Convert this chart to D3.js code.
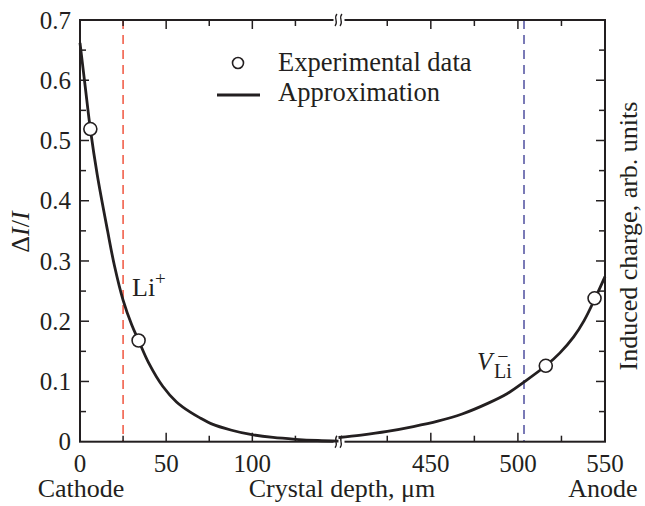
<!DOCTYPE html>
<html>
<head>
<meta charset="utf-8">
<script src="https://cdn.jsdelivr.net/npm/d3@7"></script>
<style>
  body { margin: 0; background: #fff; }
  svg text { font-family: "Liberation Serif", "Times New Roman", serif; fill: #231f20; }
</style>
</head>
<body>
<script>
// Data
var leftCurve = [
  [0, 0.662], [3, 0.59], [6, 0.519], [10, 0.443], [16, 0.35], [20, 0.292],
  [25, 0.235], [30, 0.194], [34, 0.168], [40, 0.130], [48, 0.092], [56, 0.066],
  [64, 0.049], [70, 0.039], [76, 0.030], [88, 0.019], [99, 0.012], [112, 0.007],
  [125, 0.004], [138, 0.002], [150, 0.001]
];
var rightCurve = [
  [397, 0.007], [410, 0.011], [425, 0.017], [440, 0.025], [454, 0.034],
  [468, 0.046], [483, 0.064], [494, 0.080], [503, 0.098], [516, 0.126],
  [524, 0.147], [532, 0.174], [538, 0.201], [544, 0.236], [550, 0.274]
];
var expPoints = [[6, 0.519], [34, 0.168], [516, 0.126], [544, 0.238]];
var xMajor = [0, 50, 100, 450, 500, 550];
var xMinor = [25, 75, 125, 425, 475, 525];
var yMajor = [0, 0.1, 0.2, 0.3, 0.4, 0.5, 0.6, 0.7];
var yMinor = [0.05, 0.15, 0.25, 0.35, 0.45, 0.55, 0.65];
var liPlus = 25;       // Li+ position, um
var vLi = 503.5;       // V_Li- position, um

//Define plot box
var W = 645, H = 506;
var pL = 80, pR = 605, pT = 20, pB = 441.7;

var svg = d3.select("body").append("svg")
    .attr("width", W)
    .attr("height", H);

//Broken x scale: 0-150 and 397-550
var xScale = d3.scaleLinear()
    .domain([0, 150, 397, 550])
    .range([pL, 338.5, 338.5, pR]);
var yScale = d3.scaleLinear().domain([0, 0.7]).range([pB, pT]);

//Dashed marker lines
svg.append("line")
    .attr("x1", xScale(liPlus)).attr("x2", xScale(liPlus))
    .attr("y1", pT).attr("y2", pB)
    .attr("stroke", "#f0553f").attr("stroke-width", 1.5)
    .attr("stroke-dasharray", "9,6");
svg.append("line")
    .attr("x1", xScale(vLi)).attr("x2", xScale(vLi))
    .attr("y1", pT).attr("y2", pB)
    .attr("stroke", "#4f4f9f").attr("stroke-width", 1.5)
    .attr("stroke-dasharray", "9,6");

//Frame
svg.append("rect")
    .attr("x", pL).attr("y", pT)
    .attr("width", pR - pL).attr("height", pB - pT)
    .attr("fill", "none").attr("stroke", "#231f20").attr("stroke-width", 2);

//Ticks (inward on all four sides)
var tk = svg.append("g").attr("stroke", "#231f20").attr("stroke-width", 1.5);
function xTicks(vals, len) {
  vals.forEach(function(v) {
    var x = xScale(v);
    tk.append("line").attr("x1", x).attr("x2", x).attr("y1", pB).attr("y2", pB - len);
    tk.append("line").attr("x1", x).attr("x2", x).attr("y1", pT).attr("y2", pT + len);
  });
}
function yTicks(vals, len) {
  vals.forEach(function(v) {
    var y = yScale(v);
    tk.append("line").attr("x1", pL).attr("x2", pL + len).attr("y1", y).attr("y2", y);
    tk.append("line").attr("x1", pR).attr("x2", pR - len).attr("y1", y).attr("y2", y);
  });
}
xTicks(xMajor, 9); xTicks(xMinor, 6);
yTicks(yMajor.slice(1, -1), 9); yTicks(yMinor, 6);

//Tick labels
svg.selectAll(".ylab").data(yMajor).enter().append("text")
    .attr("class", "ylab")
    .attr("x", 71)
    .attr("y", function(d) { return yScale(d); })
    .attr("dy", "0.35em")
    .style("text-anchor", "end")
    .attr("font-size", "25px")
    .text(function(d) { return d === 0 ? "0" : d.toFixed(1); });

svg.selectAll(".xlab").data(xMajor).enter().append("text")
    .attr("class", "xlab")
    .attr("x", function(d) { return xScale(d); })
    .attr("y", 472)
    .style("text-anchor", "middle")
    .attr("font-size", "25px")
    .text(function(d) { return d; });

//Axis break marks
function breakMark(y) {
  var x = xScale(150);
  svg.append("rect").attr("x", x - 5).attr("y", y - 7).attr("width", 11).attr("height", 14).attr("fill", "#fff");
  [-2.5, 2.5].forEach(function(o) {
    svg.append("path")
      .attr("d", "M" + (x + o + 1) + "," + (y - 6) + " C" + (x + o - 3) + "," + (y - 2) + " " + (x + o + 3) + "," + (y + 2) + " " + (x + o - 1) + "," + (y + 6))
      .attr("fill", "none").attr("stroke", "#231f20").attr("stroke-width", 1.3);
  });
}
breakMark(pT);
breakMark(pB);

//Approximation curve
var line = d3.line()
    .x(function(d) { return xScale(d[0]); })
    .y(function(d) { return yScale(d[1]); })
    .curve(d3.curveCatmullRom.alpha(0.5));
[leftCurve, rightCurve].forEach(function(c) {
  svg.append("path").datum(c)
    .attr("d", line)
    .attr("fill", "none").attr("stroke", "#231f20").attr("stroke-width", 2.8);
});

//Experimental points
svg.selectAll(".dot").data(expPoints).enter().append("circle")
    .attr("class", "dot")
    .attr("cx", function(d) { return xScale(d[0]); })
    .attr("cy", function(d) { return yScale(d[1]); })
    .attr("r", 6.5)
    .attr("fill", "#fff").attr("stroke", "#231f20").attr("stroke-width", 1.6);

//Legend
svg.append("circle").attr("cx", 238).attr("cy", 63).attr("r", 5.5)
    .attr("fill", "#fff").attr("stroke", "#231f20").attr("stroke-width", 1.6);
svg.append("line").attr("x1", 217).attr("x2", 260).attr("y1", 95).attr("y2", 95)
    .attr("stroke", "#231f20").attr("stroke-width", 2.8);
svg.append("text").attr("x", 278).attr("y", 71).attr("font-size", "26.5px").text("Experimental data");
svg.append("text").attr("x", 278).attr("y", 101).attr("font-size", "26.5px").text("Approximation");

//Annotations
var li = svg.append("text").attr("x", 132).attr("y", 296).attr("font-size", "26px");
li.append("tspan").text("Li");
li.append("tspan").attr("dy", -11).attr("font-size", "19px").text("+");

svg.append("text").attr("x", 477).attr("y", 370).attr("font-size", "25px")
    .attr("font-style", "italic").text("V");
svg.append("text").attr("x", 494).attr("y", 378).attr("font-size", "20px").text("Li");
svg.append("text").attr("x", 503).attr("y", 363).attr("font-size", "20px")
    .style("text-anchor", "middle").text("\u2212");

//Axis titles
svg.append("text").attr("x", 342).attr("y", 497).style("text-anchor", "middle")
    .attr("font-size", "26px").text("Crystal depth, \u03bcm");
svg.append("text").attr("x", 81).attr("y", 497).style("text-anchor", "middle")
    .attr("font-size", "26px").text("Cathode");
svg.append("text").attr("x", 603).attr("y", 497).style("text-anchor", "middle")
    .attr("font-size", "26px").text("Anode");

var yt = svg.append("text").attr("transform", "translate(29,232) rotate(-90)")
    .style("text-anchor", "middle").attr("font-size", "26px");
yt.append("tspan").text("\u0394");
yt.append("tspan").attr("font-style", "italic").text("I");
yt.append("tspan").text("/");
yt.append("tspan").attr("font-style", "italic").text("I");

svg.append("text").attr("transform", "translate(637,236) rotate(-90)")
    .style("text-anchor", "middle").attr("font-size", "26px")
    .text("Induced charge, arb. units");
</script>
</body>
</html>
